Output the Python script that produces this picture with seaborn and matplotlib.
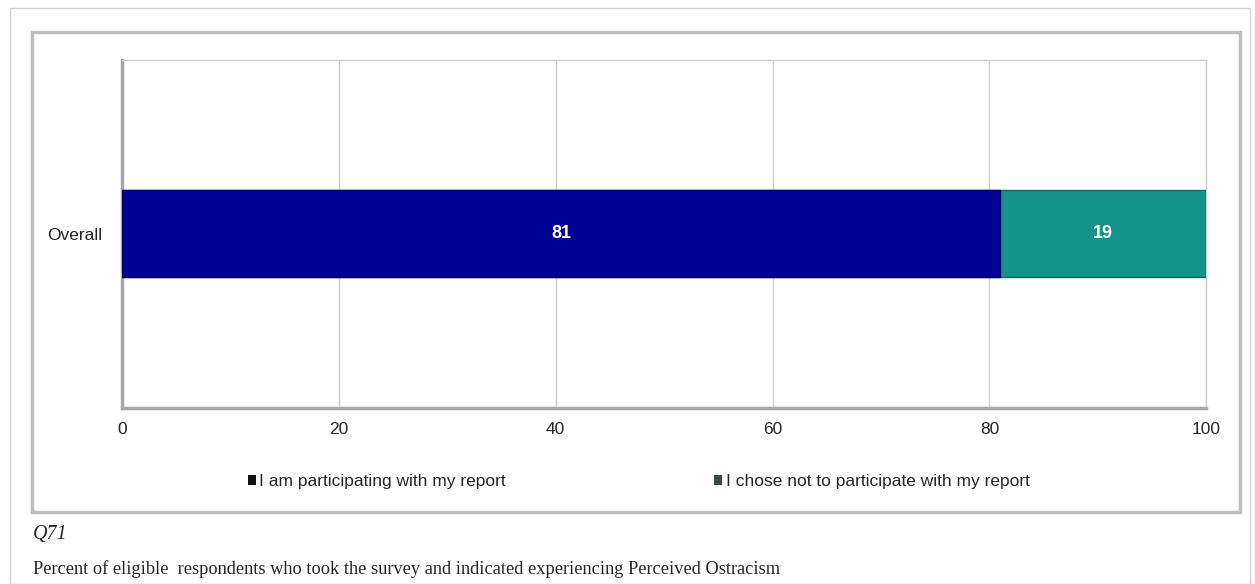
import pandas as pd
import matplotlib.pyplot as plt
import seaborn as sns
from matplotlib.patches import Rectangle, Patch

# dados
categorias = ["Overall"]
participando = [81]
nao_participando = [19]
series = ["I am participating with my report", "I chose not to participate with my report"]
cores = ["#000096", "#14938A"]
ticks_x = [0, 20, 40, 60, 80, 100]

df = pd.DataFrame({"cat": categorias, "part": participando, "nao": nao_participando})
df["total"] = df["part"] + df["nao"]

sns.set_theme(style="white")
plt.rcParams["font.family"] = ["Liberation Sans", "DejaVu Sans"]

fig = plt.figure(figsize=(12.55, 5.84), dpi=100)
ax = fig.add_axes([0.0972, 0.3014, 0.864, 0.5959])

# barras empilhadas: total atrás, primeira série na frente
sns.barplot(data=df, y="cat", x="total", color=cores[1], width=0.25, orient="h",
            saturation=1, edgecolor="#0b6a63", linewidth=1, ax=ax, zorder=3)
sns.barplot(data=df, y="cat", x="part", color=cores[0], width=0.25, orient="h",
            saturation=1, edgecolor="#00005a", linewidth=1, ax=ax, zorder=4)

for i, row in df.iterrows():
    ax.text(row["part"] / 2, i, str(row["part"]), ha="center", va="center",
            color="white", fontsize=13, fontweight="bold", zorder=5)
    ax.text(row["part"] + row["nao"] / 2, i, str(row["nao"]), ha="center", va="center",
            color="white", fontsize=13, fontweight="bold", zorder=5)

ax.set_xlim(0, 100)
ax.set_ylim(0.5, -0.5)
ax.set_xticks(ticks_x)
ax.set_xticklabels([str(t) for t in ticks_x], fontsize=12.5)
ax.tick_params(axis="y", labelsize=12.5, length=0, pad=14)
ax.tick_params(axis="x", length=0, pad=10)
ax.set_xlabel("")
ax.set_ylabel("")
ax.xaxis.grid(True, color="#cfcfcf", linewidth=1, zorder=0)
ax.set_axisbelow(True)
for lado in ["top", "right"]:
    ax.spines[lado].set_color("#cfcfcf")
    ax.spines[lado].set_linewidth(1)
for lado in ["left", "bottom"]:
    ax.spines[lado].set_color("#a8a8a8")
    ax.spines[lado].set_linewidth(2.5)

# legenda
handles = [Patch(facecolor="#111111", edgecolor="none"), Patch(facecolor="#2f4f4b", edgecolor="none")]
fig.legend(handles, series, loc="center", bbox_to_anchor=(0.509, 0.175), ncol=2,
           frameon=False, fontsize=12.5, handlelength=0.45, handleheight=0.45,
           handletextpad=0.2, columnspacing=12)

# molduras
fig.patches.append(Rectangle((10 / 1255, 0), 1240 / 1255, 576 / 584, transform=fig.transFigure,
                             fill=False, edgecolor="#d0d0d0", linewidth=1))
fig.patches.append(Rectangle((32 / 1255, 72 / 584), 1208 / 1255, 480 / 584, transform=fig.transFigure,
                             fill=False, edgecolor="#bdbdbd", linewidth=2.5))

fig.text(33 / 1255, 1 - 539 / 584, "Q71", fontsize=14.5, style="italic", va="baseline",
         family=["Liberation Serif", "DejaVu Serif"])
fig.text(33 / 1255, 1 - 569 / 584,
         "Percent of eligible  respondents who took the survey and indicated experiencing Perceived Ostracism",
         fontsize=13.2, va="center", family=["Liberation Serif", "DejaVu Serif"])

plt.savefig("out.png", dpi=100)
